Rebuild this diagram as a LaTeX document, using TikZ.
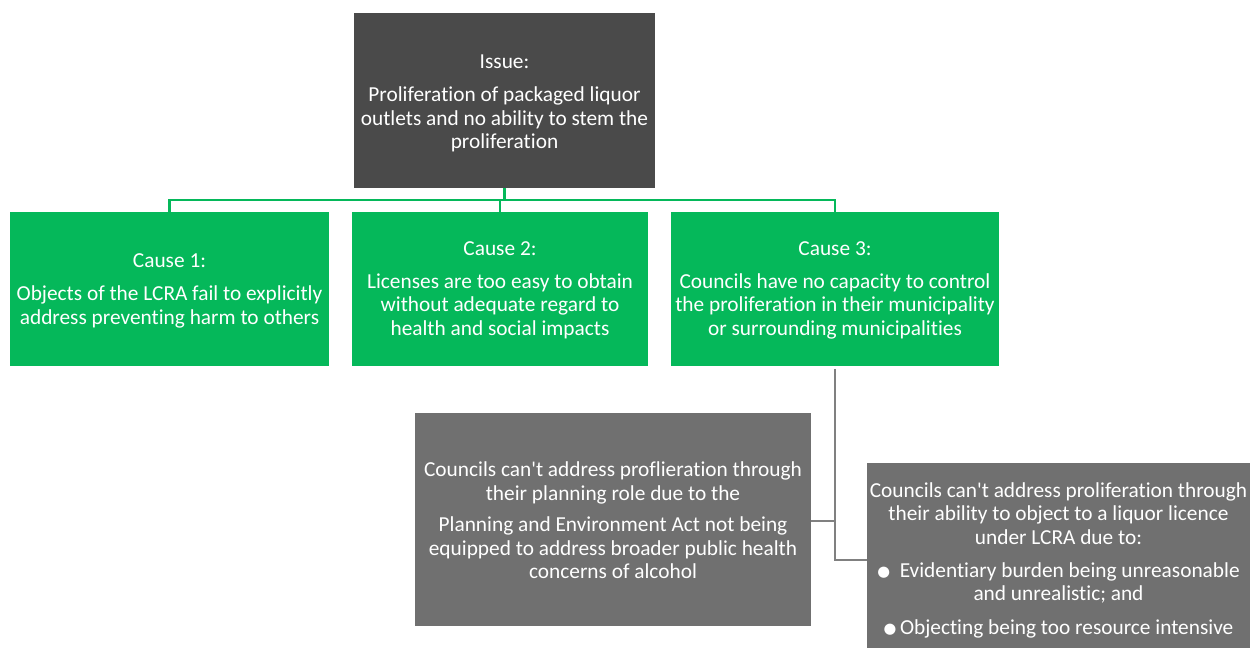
\documentclass[tikz,border=0pt]{standalone}
\usepackage{fontspec}
\setmainfont{Carlito}[Ligatures=NoCommon]
\newfontfamily\symfont{DejaVu Sans}
\newcommand\bul{\raisebox{0.8pt}{\symfont\fontsize{11pt}{17.6pt}\selectfont ●}}
\definecolor{issuegray}{HTML}{4A4A4A}
\definecolor{causegreen}{HTML}{05B85A}
\definecolor{subgray}{HTML}{707070}
\definecolor{linegray}{HTML}{808080}
\begin{document}
\begin{tikzpicture}[x=0.75pt,y=-0.75pt,
  box/.style={rectangle, inner sep=0pt},
  txt/.style={inner sep=0pt, align=center, text=white,
    font=\fontsize{16pt}{17.6pt}\selectfont},
  issuebox/.style={box, fill=issuegray},
  causebox/.style={box, fill=causegreen},
  subbox/.style={box, fill=subgray},
  gline/.style={draw=causegreen, line width=1.8pt},
  kline/.style={draw=linegray, line width=1.6pt}]
\useasboundingbox (0,0) rectangle (1260,648);
\node[issuebox, minimum width=225.75pt, minimum height=131.25pt] (issue) at (504.5,100.5) {};
\node[txt] (issuet) at ([yshift=-2.25pt]issue.center)
  {Issue:\\[7pt]Proliferation of packaged liquor\\outlets and no ability to stem the\\proliferation};
\node[causebox, minimum width=239.25pt, minimum height=115.5pt] (c1) at (169.5,289) {};
\node[txt] (c1t) at ([yshift=-1.5pt]c1.center)
  {Cause 1:\\[7pt]Objects of the LCRA fail to explicitly\\address preventing harm to others};
\node[causebox, minimum width=222pt, minimum height=115.5pt] (c2) at (500,289) {};
\node[txt] (c2t) at ([yshift=-1pt]c2.center)
  {Cause 2:\\[7pt]Licenses are too easy to obtain\\without adequate regard to\\health and social impacts};
\node[causebox, minimum width=246pt, minimum height=115.5pt] (c3) at (835,289) {};
\node[txt] (c3t) at ([yshift=-1pt]c3.center)
  {Cause 3:\\[7pt]Councils have no capacity to control\\the proliferation in their municipality\\or surrounding municipalities};
\node[subbox, minimum width=297pt, minimum height=159.75pt] (bl) at (613,519.5) {};
\node[txt] (blt) at ([yshift=-0.6pt]bl.center)
  {Councils can\textquotesingle t address proflieration through\\their planning role due to the\\[6pt]Planning and Environment Act not being\\equipped to address broader public health\\concerns of alcohol};
\node[subbox, minimum width=287.25pt, minimum height=138.75pt] (br) at (1058.5,555.5) {};
\node[txt] (brt) at ([yshift=-3.75pt]br.center)
  {Councils can\textquotesingle t address proliferation through\\their ability to object to a liquor licence\\under LCRA due to:\\[7pt]\bul\ \ Evidentiary burden being unreasonable\\and unrealistic; and\\[8pt]\bul\,Objecting being too resource intensive};
\coordinate (hub) at (504.5,200);
\draw[gline] (issue.south) -- (hub) -| (c1.north);
\draw[gline] (hub) -| (c3.north);
\draw[gline] (c2.north) -- (c2.north |- hub);
\draw[kline] ([yshift=-2pt]c3.south) |- ([yshift=-3.4pt]br.west);
\draw[kline] ([yshift=-1pt]bl.east) -- ([yshift=-1pt]bl.east -| c3.south);
\end{tikzpicture}
\end{document}
